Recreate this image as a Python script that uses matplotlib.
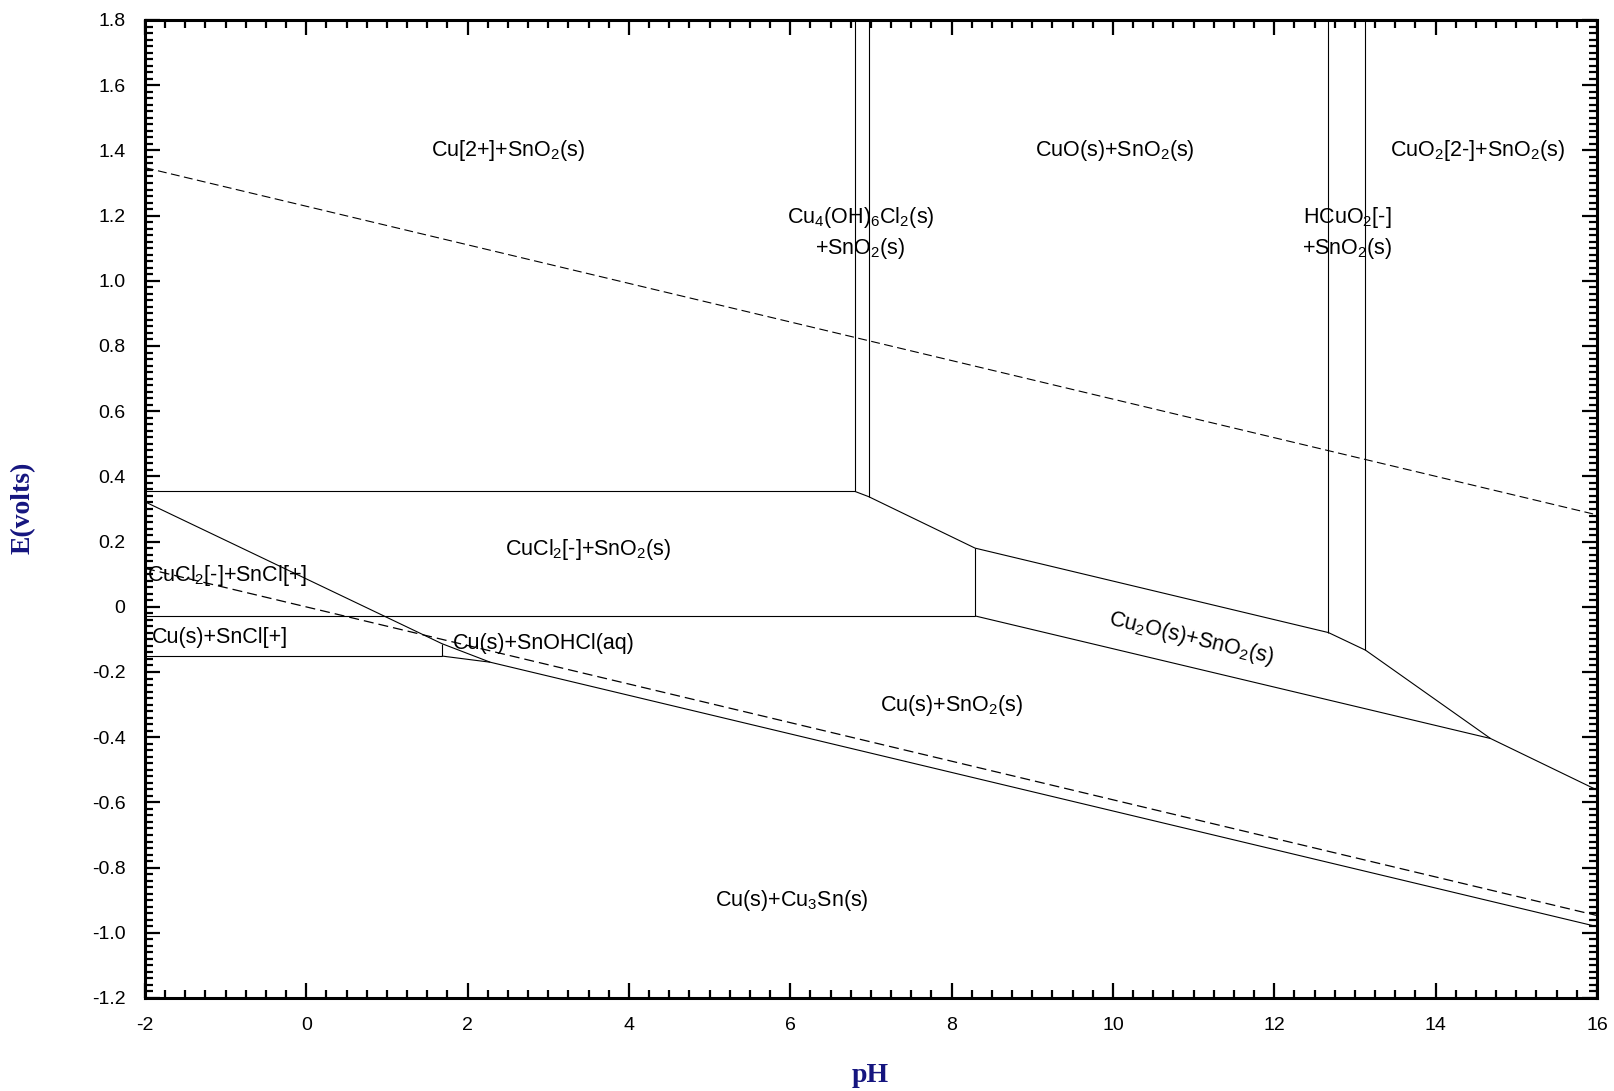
import matplotlib
matplotlib.use("Agg")
import matplotlib.pyplot as plt
from matplotlib.ticker import MultipleLocator, FixedLocator, FixedFormatter

plt.rcParams["font.family"] = ["Liberation Sans", "DejaVu Sans"]
plt.rcParams["mathtext.fontset"] = "custom"
plt.rcParams["mathtext.rm"] = "Liberation Sans"
plt.rcParams["mathtext.it"] = "Liberation Sans:italic"
plt.rcParams["mathtext.bf"] = "Liberation Sans:bold"

# ---- axis ticks ----
x_ticks = [-2, 0, 2, 4, 6, 8, 10, 12, 14, 16]
x_labels = ["-2", "0", "2", "4", "6", "8", "10", "12", "14", "16"]
y_ticks = [1.8, 1.6, 1.4, 1.2, 1.0, 0.8, 0.6, 0.4, 0.2, 0.0,
           -0.2, -0.4, -0.6, -0.8, -1.0, -1.2]
y_labels = ["1.8", "1.6", "1.4", "1.2", "1.0", "0.8", "0.6", "0.4", "0.2", "0",
            "-0.2", "-0.4", "-0.6", "-0.8", "-1.0", "-1.2"]

# ---- water stability limits (dashed) ----
o2_ph = [-2, 16]
o2_e = [1.347, 0.282]
h2_ph = [-2, 16]
h2_e = [0.118, -0.947]

# ---- phase boundaries (solid) ----
cu3sn_ph = [-2, 1.68, 2.28, 16]
cu3sn_e = [0.322, -0.113, -0.170, -0.981]

cu2_top_ph = [-2, 6.80]
cu2_top_e = [0.354, 0.354]

cu4_left_ph = [6.80, 6.80]
cu4_left_e = [0.354, 1.8]

cu4_right_ph = [6.97, 6.97]
cu4_right_e = [0.338, 1.8]

oxide_top_ph = [6.80, 6.97, 8.29, 12.67, 13.13, 14.68, 16]
oxide_top_e = [0.354, 0.338, 0.180, -0.079, -0.133, -0.404, -0.562]

hcuo2_left_ph = [12.67, 12.67]
hcuo2_left_e = [-0.079, 1.8]

hcuo2_right_ph = [13.13, 13.13]
hcuo2_right_e = [-0.133, 1.8]

cucl2_bottom_ph = [-2, 8.29]
cucl2_bottom_e = [-0.028, -0.028]

cu2o_left_ph = [8.29, 8.29]
cu2o_left_e = [-0.028, 0.180]

cu2o_bottom_ph = [8.29, 14.68]
cu2o_bottom_e = [-0.028, -0.404]

sncl_bottom_ph = [-2, 1.68]
sncl_bottom_e = [-0.151, -0.151]

sncl_right_ph = [1.68, 1.68]
sncl_right_e = [-0.151, -0.113]

snohcl_bottom_ph = [1.68, 2.28]
snohcl_bottom_e = [-0.151, -0.170]

# ---- region labels ----
label_text = [
    r"Cu[2+]+SnO$_2$(s)",
    r"CuO(s)+SnO$_2$(s)",
    r"CuO$_2$[2-]+SnO$_2$(s)",
    r"Cu$_4$(OH)$_6$Cl$_2$(s)",
    r"+SnO$_2$(s)",
    r"HCuO$_2$[-]",
    r"+SnO$_2$(s)",
    r"CuCl$_2$[-]+SnO$_2$(s)",
    r"CuCl$_2$[-]+SnCl[+]",
    r"Cu(s)+SnCl[+]",
    r"Cu(s)+SnOHCl(aq)",
    r"Cu$_2$O(s)+SnO$_2$(s)",
    r"Cu(s)+SnO$_2$(s)",
    r"Cu(s)+Cu$_3$Sn(s)",
]
label_ph = [2.50, 10.02, 14.52, 6.87, 6.87, 12.90, 12.90, 3.49,
            -1.97, -1.91, 1.82, 10.97, 8.00, 6.02]
label_e = [1.40, 1.40, 1.40, 1.195, 1.10, 1.195, 1.10, 0.177,
           0.095, -0.094, -0.113, -0.098, -0.303, -0.902]
label_ha = ["center", "center", "center", "center", "center", "center", "center",
            "center", "left", "left", "left", "center", "center", "center"]
label_rot = [0, 0, 0, 0, 0, 0, 0, 0, 0, 0, 0, -13.4, 0, 0]

fig = plt.figure(figsize=(16.15, 10.91), dpi=100)
ax = fig.add_axes([145 / 1615, 1 - 998 / 1091, (1597 - 145) / 1615, (998 - 20) / 1091])

line_kw = dict(color="black", lw=0.8, solid_capstyle="butt")
for xs, ys in [
    (cu3sn_ph, cu3sn_e), (cu2_top_ph, cu2_top_e), (cu4_left_ph, cu4_left_e),
    (cu4_right_ph, cu4_right_e), (oxide_top_ph, oxide_top_e),
    (hcuo2_left_ph, hcuo2_left_e), (hcuo2_right_ph, hcuo2_right_e),
    (cucl2_bottom_ph, cucl2_bottom_e), (cu2o_left_ph, cu2o_left_e),
    (cu2o_bottom_ph, cu2o_bottom_e), (sncl_bottom_ph, sncl_bottom_e),
    (sncl_right_ph, sncl_right_e), (snohcl_bottom_ph, snohcl_bottom_e),
]:
    ax.plot(xs, ys, **line_kw)

ax.plot(o2_ph, o2_e, color="black", lw=0.8, dashes=(8, 4))
ax.plot(h2_ph, h2_e, color="black", lw=0.9, dashes=(8, 4))

for txt, x, y, ha, rot in zip(label_text, label_ph, label_e, label_ha, label_rot):
    ax.text(x, y, txt, ha=ha, va="center", rotation=rot, rotation_mode="anchor",
            fontsize=15.5, color="black")

ax.set_xlim(-2, 16)
ax.set_ylim(-1.2, 1.8)

ax.xaxis.set_major_locator(FixedLocator(x_ticks))
ax.xaxis.set_major_formatter(FixedFormatter(x_labels))
ax.xaxis.set_minor_locator(MultipleLocator(0.25))
ax.yaxis.set_major_locator(FixedLocator(y_ticks))
ax.yaxis.set_major_formatter(FixedFormatter(y_labels))
ax.yaxis.set_minor_locator(MultipleLocator(0.02))

ax.tick_params(which="both", direction="in", top=True, right=True, width=1.6,
               colors="black", labelsize=14)
ax.tick_params(which="major", length=11)
ax.tick_params(which="minor", length=5.5)
ax.tick_params(axis="x", which="major", pad=14)
ax.tick_params(axis="y", which="major", pad=14)

for sp in ax.spines.values():
    sp.set_linewidth(2.2)

navy = "#15157f"
fig.text(845 * 1.03 / 1615, 1 - 1076 / 1091, "pH", ha="center", va="center",
         fontsize=20, fontweight="bold", color=navy,
         family=["Liberation Serif", "DejaVu Serif"])
fig.text(23 / 1615, 1 - 508 / 1091, "E(volts)", ha="center", va="center",
         rotation=90, fontsize=20, fontweight="bold", color=navy,
         family=["Liberation Serif", "DejaVu Serif"])

fig.savefig("out.png", dpi=100)
